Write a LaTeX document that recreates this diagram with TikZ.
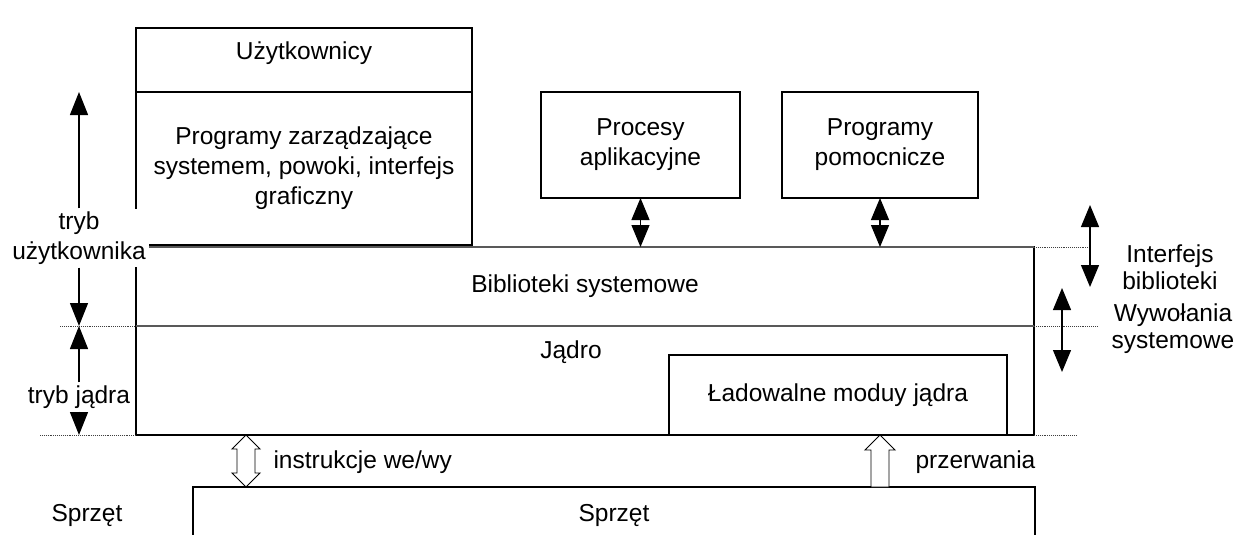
\documentclass[tikz,border=0pt]{standalone}
\usepackage{fontspec}
\setmainfont{Liberation Sans}
\usetikzlibrary{arrows.meta}
\begin{document}
\begin{tikzpicture}[x=1pt,y=-1pt,
  every node/.style={font=\fontsize{24.5}{30}\selectfont},
  box/.style={draw, line width=1.3pt, inner sep=0pt, outer sep=0pt, anchor=north west, align=center},
  guide/.style={densely dotted, line width=0.9pt, black!75},
  edgeline/.style={line width=2.2pt, black!65},
  dbl/.style={line width=1.2pt, {Triangle[length=22pt,width=18pt]}-{Triangle[length=22pt,width=18pt]}},
  sgl/.style={line width=1.2pt, -{Triangle[length=23pt,width=18pt]}},
  hollow/.style={draw, line width=0.9pt, fill=white, line join=miter},
  lbl/.style={fill=white, inner sep=3pt, align=center},
  side/.style={align=center, font=\fontsize{24.5}{27}\selectfont}
]
\useasboundingbox (0,0) rectangle (1245,535);

% user space
\node[box, minimum width=336pt, minimum height=64pt] (users) at (136,28) {};
\node (userslbl) at (304,53) {Użytkownicy};
\node[box, minimum width=336pt, minimum height=153pt] (shell) at (136,92)
  {Programy zarządzające\\systemem, powoki, interfejs\\graficzny};
\node[box, minimum width=199pt, minimum height=106pt] (apps) at (541,92) {Procesy\\aplikacyjne};
\node[box, minimum width=196pt, minimum height=106pt] (utils) at (782,92) {Programy\\pomocnicze};

% libraries and kernel
\node[box, minimum width=898pt, minimum height=79pt] (libs) at (136,247) {Biblioteki systemowe};
\node[box, minimum width=898pt, minimum height=109pt] (kernel) at (136,326) {};
\draw[edgeline] (libs.north west) -- (libs.north east);
\draw[edgeline] (libs.south west) -- (libs.south east);
\node (kernellbl) at (571,352) {Jądro};
\node[box, minimum width=338pt, minimum height=80pt] (modules) at (669,355) {Ładowalne moduy jądra};

% hardware
\node[box, minimum width=842pt, minimum height=56pt] (hw) at (193,487) {Sprzęt};
\node (hwside) at (87,515) {Sprzęt};

% level guides
\draw[guide] (libs.north east) -- (1090,247);
\draw[guide] (60,326) -- (kernel.north west);
\draw[guide] (kernel.north east) -- (1098,326);
\draw[guide] (40,435) -- (kernel.south west);
\draw[guide] (kernel.south east) -- (1077,435);

% process to library calls
\draw[dbl] (apps.south) -- (apps.south |- libs.north);
\draw[dbl] (utils.south) -- (utils.south |- libs.north);

% privilege modes
\node[lbl] (umode) at (79,238) {tryb\\użytkownika};
\coordinate (umtop) at (79,92);
\coordinate (umbot) at (79,326);
\draw[sgl] (umode.north) -- (umtop);
\draw[sgl] (umode.south) -- (umbot);
\node[lbl] (kmode) at (79,397) {tryb jądra};
\coordinate (kmtop) at (79,326);
\coordinate (kmbot) at (79,435);
\draw[sgl] (kmode.north) -- (kmtop);
\draw[sgl] (kmode.south) -- (kmbot);

% interfaces on the right
\coordinate (iltop) at (1090,205);
\coordinate (ilbot) at (1090,287);
\draw[dbl] (iltop) -- (ilbot);
\node[side] (ilib) at (1170,267) {Interfejs\\biblioteki};
\coordinate (sctop) at (1062,288);
\coordinate (scbot) at (1062,372);
\draw[dbl] (sctop) -- (scbot);
\node[side] (sysc) at (1173,329) {Wywołania\\systemowe};

% hardware interaction
\coordinate (iotop) at (246,435);
\coordinate (iobot) at (246,487);
\draw[hollow] (iotop) -- ++(14,14) -- ++(-5,0) -- ++(0,24) -- ++(5,0) -- (iobot)
  -- ++(-14,-14) -- ++(5,0) -- ++(0,-24) -- ++(-5,0) -- cycle;
\node[anchor=west] (iolbl) at (270,462) {instrukcje we/wy};
\coordinate (irqtop) at (880,435);
\draw[hollow] (irqtop) -- ++(15,15) -- ++(-6,0) -- ++(0,37) -- ++(-18,0) -- ++(0,-37)
  -- ++(-6,0) -- cycle;
\node[anchor=west] (irqlbl) at (912,462) {przerwania};
\end{tikzpicture}
\end{document}
